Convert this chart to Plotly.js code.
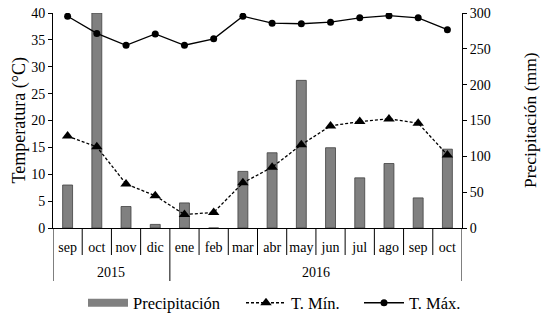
<!DOCTYPE html>
<html><head><meta charset="utf-8">
<script src="https://cdn.plot.ly/plotly-3.0.1.min.js"></script>
<style>html,body{margin:0;padding:0;background:#fff}#chart{width:545px;height:318px}</style>
</head><body><div id="chart"></div>
<script>
const years = ['2015','2015','2015','2015','2016','2016','2016','2016','2016','2016','2016','2016','2016','2016'];
const months = ['sep','oct','nov','dic','ene','feb','mar','abr','may','jun','jul','ago','sep','oct'];
const precipitacion = [60, 300, 30, 5, 35, 0, 79, 105, 206, 112, 70, 90, 42, 110];
const tMin = [17.1, 15.1, 8.2, 6.0, 2.5, 2.9, 8.4, 11.3, 15.5, 19.0, 19.8, 20.3, 19.5, 13.6];
const tMax = [39.4, 36.2, 34.0, 36.1, 34.0, 35.2, 39.4, 38.1, 38.0, 38.3, 39.1, 39.5, 39.1, 36.9];

const F = 'Liberation Serif, Times New Roman, serif';
const n = months.length;
const xi = months.map((m, i) => i);
const L = 53, R = 83, T = 13, B = 90;
const plotW = 545 - L - R, plotH = 318 - T - B;
const px = v => (v - L) / plotW;          // page x -> paper x
const py = v => (318 - B - v) / plotH;    // page y -> paper y

// category separators and year labels
const shapes = [];
for (let i = 0; i <= n; i++) {
  const long = (i === 0 || i === n || years[i] !== years[i - 1]);
  shapes.push({type:'line', xref:'x', yref:'paper', x0:i - 0.5, x1:i - 0.5,
    y0:0, y1: long ? py(281) : py(255), line:{color:'#000', width:1}});
}
const annotations = [];
[...new Set(years)].forEach(y => {
  const idx = xi.filter(i => years[i] === y);
  const c = (idx[0] + idx[idx.length - 1]) / 2;
  annotations.push({x:c, xref:'x', y:py(272), yref:'paper', text:y, showarrow:false,
    yanchor:'middle', xanchor:'center', font:{family:F, size:14, color:'#000'}});
});
annotations.push({x:px(19), xref:'paper', y:0.5, yref:'paper', text:'Temperatura (°C)',
  textangle:-90, showarrow:false, xanchor:'center', yanchor:'middle', font:{family:F, size:18, color:'#000'}});
annotations.push({x:px(530), xref:'paper', y:py(120), yref:'paper', text:'Precipitación (mm)',
  textangle:-90, showarrow:false, xanchor:'center', yanchor:'middle', font:{family:F, size:17.5, color:'#000'}});

const traces = [
  {type:'bar', x:xi, y:precipitacion, yaxis:'y', name:'Precipitación', showlegend:false,
   width:0.34, marker:{color:'#808080', line:{color:'#404040', width:0.8}}},
  {type:'scatter', mode:'lines', x:[null], y:[null], yaxis:'y', name:'Precipitación', legend:'legend',
   line:{color:'#808080', width:8}},
  {type:'scatter', mode:'lines+markers', x:xi, y:tMin, yaxis:'y2', name:'T. Mín.', legend:'legend2',
   line:{color:'#000', width:1.3, dash:'3px,2px'}, marker:{symbol:'triangle-up', size:10, color:'#000'}},
  {type:'scatter', mode:'lines+markers', x:xi, y:tMax, yaxis:'y2', name:'T. Máx.', legend:'legend3',
   line:{color:'#000', width:1.3}, marker:{symbol:'circle', size:7, color:'#000'}}
];

const leg = (x) => ({orientation:'h', x:px(x), xanchor:'left', y:py(303), yanchor:'middle',
  itemwidth:40, font:{family:F, size:16.5, color:'#000'}, bgcolor:'rgba(0,0,0,0)'});

const layout = {
  width:545, height:318,
  margin:{l:L, r:R, t:T, b:B, autoexpand:false},
  paper_bgcolor:'#fff', plot_bgcolor:'#fff',
  font:{family:F, size:14, color:'#000'},
  showlegend:true,
  legend:leg(83), legend2:leg(241), legend3:leg(359),
  shapes:shapes, annotations:annotations,
  xaxis:{range:[-0.5, n - 0.5], tickvals:xi, ticktext:months, ticks:'', showline:true,
         linecolor:'#000', linewidth:1, showgrid:false, zeroline:false,
         ticklabelstandoff:6, tickfont:{family:F, size:14}},
  yaxis:{side:'right', range:[0,300], dtick:50, showline:true, linecolor:'#000',
         ticks:'outside', ticklen:4, tickcolor:'#000', showgrid:false, zeroline:false,
         tickfont:{family:F, size:14}},
  yaxis2:{overlaying:'y', side:'left', range:[0,40], dtick:5, showline:true, linecolor:'#000',
          ticks:'outside', ticklen:4, tickcolor:'#000', showgrid:false, zeroline:false,
          tickfont:{family:F, size:14}}
};

Plotly.newPlot('chart', traces, layout, {displayModeBar:false, staticPlot:true});
</script>
</body></html>
